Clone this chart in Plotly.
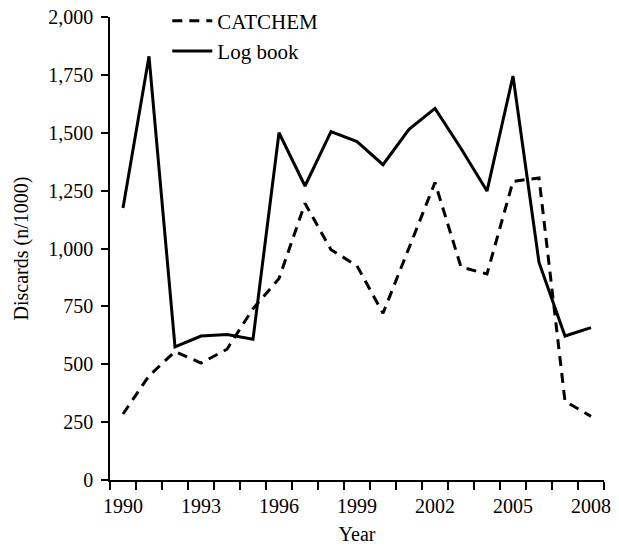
import plotly.graph_objects as go

years = list(range(1990, 2009))
catchem = [285, 450, 555, 505, 565, 740, 870, 1195, 995, 925, 720, 1000, 1285, 920, 890, 1290, 1305, 340, 275]
logbook = [1175, 1830, 575, 622, 628, 608, 1500, 1270, 1505, 1462, 1362, 1515, 1605, 1432, 1248, 1745, 940, 622, 658]

x_ticks = [1990, 1993, 1996, 1999, 2002, 2005, 2008]
x_minor = [y - 0.5 for y in years] + [years[-1] + 0.5]
y_ticks = [0, 250, 500, 750, 1000, 1250, 1500, 1750, 2000]

FONT = "Liberation Serif, Times New Roman, serif"

fig = go.Figure()
fig.add_trace(go.Scatter(x=years, y=catchem, mode="lines", name="CATCHEM",
                         line=dict(color="black", width=3, dash="10px,7px")))
fig.add_trace(go.Scatter(x=years, y=logbook, mode="lines", name="Log book",
                         line=dict(color="black", width=3)))

fig.update_layout(
    width=619, height=546,
    margin=dict(l=110, r=15, t=17, b=66, autoexpand=False),
    paper_bgcolor="white", plot_bgcolor="white",
    font=dict(family=FONT, size=20, color="black"),
    showlegend=True,
    legend=dict(x=0.116, y=0.999, xref="paper", yref="container",
                xanchor="left", yanchor="top", itemwidth=40,
                bgcolor="rgba(0,0,0,0)", font=dict(size=21), tracegroupgap=0),
)
fig.update_xaxes(
    range=[1989.5, 2008.5], tickmode="array", tickvals=x_ticks,
    ticks="", showgrid=False, zeroline=False, automargin=False,
    showline=True, linecolor="black", linewidth=1.5,
    minor=dict(tickmode="array", tickvals=x_minor, ticks="outside", ticklen=8,
               tickcolor="black", tickwidth=1.5, showgrid=False),
    title=dict(text="Year", standoff=11, font=dict(size=20)),
    ticklabelstandoff=7,
)
fig.update_yaxes(
    range=[0, 2000], tickmode="array", tickvals=y_ticks, tickformat=",",
    ticks="outside", ticklen=7, tickcolor="black", tickwidth=1.5,
    showgrid=False, zeroline=False, automargin=False,
    showline=True, linecolor="black", linewidth=1.5,
    ticklabelstandoff=4,
    title=dict(text="Discards (n/1000)", standoff=14, font=dict(size=20)),
)

fig.write_html("out.html", config={"displayModeBar": False},
               post_script="document.body.style.margin='0';")
